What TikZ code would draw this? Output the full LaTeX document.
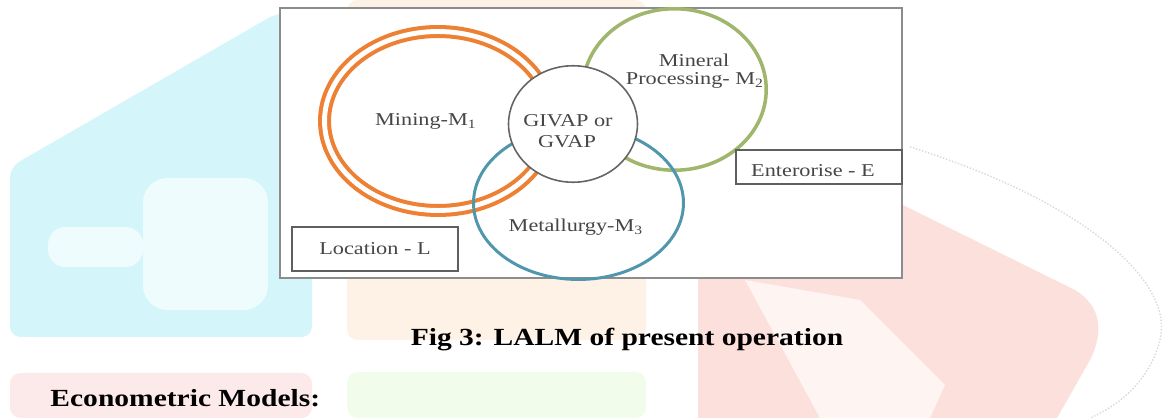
\documentclass[tikz,border=0pt]{standalone}
\usepackage{fontspec}
\setmainfont{Liberation Serif}
\usetikzlibrary{shapes.geometric}

\definecolor{ringorange}{RGB}{238,128,52}
\definecolor{ringgreen}{RGB}{160,182,108}
\definecolor{ringblue}{RGB}{80,150,172}
\definecolor{coregray}{RGB}{100,100,100}
\definecolor{framegray}{RGB}{140,140,140}
\definecolor{boxgray}{RGB}{95,95,95}
\definecolor{textgray}{RGB}{70,70,70}
\definecolor{wmcyan}{RGB}{212,246,250}
\definecolor{wmcyanlight}{RGB}{238,252,253}
\definecolor{wmpink}{RGB}{252,234,234}
\definecolor{wmorange}{RGB}{254,241,230}
\definecolor{wmgreen}{RGB}{242,252,234}
\definecolor{wmred}{RGB}{252,224,220}
\definecolor{wmredlight}{RGB}{254,244,242}

\begin{document}
\begin{tikzpicture}[x=0.02cm, y=-0.02cm,
    ring/.style={ellipse, inner sep=0pt},
    tagbox/.style={draw=boxgray, fill=white, line width=0.9pt, inner sep=0pt, minimum width=3.32cm},
    lbl/.style={anchor=base, xscale=1.23, text=textgray, font=\fontsize{10.3}{12}\selectfont}]

  \useasboundingbox (0,0) rectangle (1171,418);

  % faint watermark behind the page
  \fill [wmcyan, rounded corners=6pt]
        (10,167) -- (277,13) -- (312,13) -- (312,337) -- (10,337) -- cycle;
  \fill [wmcyanlight, rounded corners=10pt] (48,227) rectangle (143,267);
  \fill [wmcyanlight, rounded corners=14pt] (143,178) rectangle (268,310);
  \fill [wmpink, rounded corners=6pt] (10,373) rectangle (312,418);
  \fill [wmorange, rounded corners=6pt] (347,0) rectangle (646,340);
  \fill [wmgreen, rounded corners=6pt] (347,372) rectangle (646,418);
  \fill [wmred]
        (698,418) -- (698,278) -- (903,278) -- (903,205) -- (1075,290)
        .. controls (1100,305) and (1105,330) .. (1090,360) -- (1057,418) -- cycle;
  \fill [wmredlight] (745,280) -- (860,300) -- (945,385) -- (930,418) -- (820,418) -- cycle;
  \draw [black!15, densely dotted, line width=0.8pt]
        (910,147) .. controls (1080,200) and (1175,280) .. (1160,340)
        .. controls (1150,380) and (1120,405) .. (1090,418);

  % diagram
  \node [draw=framegray, fill=white, line width=0.9pt, inner sep=0pt,
         minimum width=12.44cm, minimum height=5.4cm] (frame) at (591,143) {};

  \node [ring, draw=ringorange, line width=2.3pt, double=white, double distance=2.8pt,
         minimum width=4.54cm, minimum height=3.58cm] (mining) at (438,121) {};
  \node [ring, draw=ringgreen, line width=2pt,
         minimum width=3.67cm, minimum height=3.23cm] (processing) at (674.5,89.5) {};
  \node [ring, draw=ringblue, line width=1.7pt,
         minimum width=4.2cm, minimum height=3.06cm] (metallurgy) at (578.5,203) {};
  \node [ring, draw=coregray, fill=white, line width=0.9pt,
         minimum width=2.58cm, minimum height=2.33cm] (core) at (573,124) {};

  \node [tagbox, minimum height=0.88cm] (location) at (375,249) {};
  \node [tagbox, minimum height=0.68cm] (enterprise) at (819,167) {};

  \node [lbl] (tmining) at (426,126) {Mining-M\textsubscript{1}};
  \node [lbl] (tcoreA) at (568,126.7) {GIVAP or};
  \node [lbl] (tcoreB) at (567,148) {GVAP};
  \node [lbl] (tprocA) at (694,66.7) {Mineral};
  \node [lbl] (tprocB) at (695,85) {Processing- M\textsubscript{2}};
  \node [lbl] (tmetal) at (576,231.7) {Metallurgy-M\textsubscript{3}};
  \node [lbl] (tlocation) at (375,255) {Location - L};
  \node [lbl] (tenterprise) at (813,176.7) {Enterorise - E};

  % caption and heading
  \node [anchor=base, xscale=1.2, font=\fontsize{14}{16}\selectfont\bfseries]
        (caption) at (627,346) {Fig 3: LALM of present operation};
  \node [anchor=base west, xscale=1.2, font=\fontsize{14}{16}\selectfont\bfseries]
        (heading) at (43,407) {Econometric Models:};

\end{tikzpicture}
\end{document}
